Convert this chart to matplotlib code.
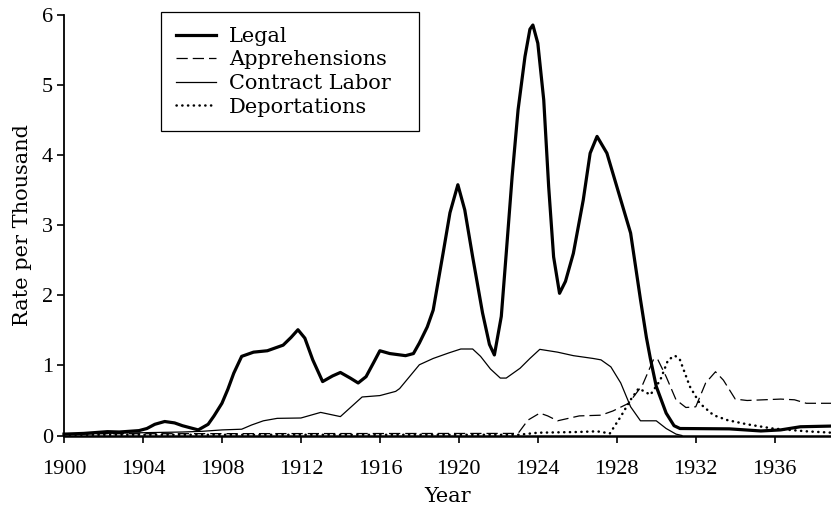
import matplotlib
matplotlib.use("Agg")
import matplotlib.pyplot as plt

plt.rcParams["font.family"] = ["Liberation Serif", "DejaVu Serif"]
plt.rcParams["font.size"] = 16

# values (rate per thousand)
legal_years = [1900, 1901, 1902.2, 1902.8, 1903.8, 1904.2, 1904.6, 1905.1, 1905.6, 1906.0,
               1906.8, 1907.3, 1907.6, 1908.0, 1908.3, 1908.6, 1909.0, 1909.6, 1910.3, 1911.1,
               1911.5, 1911.85, 1912.2, 1912.6, 1913.1, 1913.6, 1914.0, 1914.5, 1914.9, 1915.3,
               1915.7, 1916.0, 1916.5, 1917.3, 1917.7, 1918.0, 1918.4, 1918.7, 1919.2, 1919.55,
               1919.95, 1920.3, 1920.7, 1921.2, 1921.55, 1921.8, 1922.15, 1922.4, 1922.7, 1923.0,
               1923.35, 1923.6, 1923.75, 1924.0, 1924.3, 1924.55, 1924.8, 1925.1, 1925.4, 1925.8,
               1926.3, 1926.65, 1927.0, 1927.5, 1928.1, 1928.7, 1929.2, 1929.5, 1929.7, 1930.0,
               1930.5, 1930.9, 1931.2, 1933.7, 1935.3, 1936.3, 1937.3, 1938.9]
legal_rate = [0.02, 0.03, 0.055, 0.05, 0.07, 0.10, 0.16, 0.20, 0.18, 0.14,
              0.08, 0.16, 0.28, 0.46, 0.66, 0.89, 1.13, 1.19, 1.21, 1.29,
              1.40, 1.51, 1.39, 1.08, 0.77, 0.85, 0.90, 0.82, 0.75, 0.84,
              1.05, 1.21, 1.17, 1.14, 1.17, 1.32, 1.55, 1.79, 2.60, 3.18,
              3.58, 3.22, 2.55, 1.75, 1.30, 1.15, 1.70, 2.60, 3.70, 4.65,
              5.41, 5.80, 5.86, 5.60, 4.79, 3.55, 2.55, 2.03, 2.20, 2.60,
              3.36, 4.03, 4.27, 4.03, 3.46, 2.89, 1.94, 1.40, 1.10, 0.70,
              0.32, 0.14, 0.10, 0.095, 0.065, 0.08, 0.125, 0.135]

contract_years = [1900, 1902, 1904, 1906, 1907, 1908, 1909, 1909.5, 1910.1, 1910.8,
                  1912.0, 1913.0, 1914.0, 1915.1, 1916.0, 1916.8, 1917.0, 1917.5, 1918.0, 1918.7,
                  1919.5, 1920.1, 1920.7, 1921.1, 1921.6, 1922.1, 1922.4, 1923.1, 1923.6, 1924.1,
                  1925.0, 1925.8, 1926.8, 1927.2, 1927.7, 1928.2, 1928.7, 1929.2, 1930.0, 1930.5,
                  1931.0, 1931.3]
contract_rate = [0.02, 0.03, 0.04, 0.05, 0.06, 0.08, 0.09, 0.15, 0.21, 0.245,
                 0.25, 0.33, 0.27, 0.55, 0.57, 0.63, 0.67, 0.84, 1.01, 1.10,
                 1.18, 1.235, 1.235, 1.13, 0.95, 0.82, 0.82, 0.96, 1.10, 1.23,
                 1.19, 1.14, 1.10, 1.08, 0.98, 0.75, 0.41, 0.21, 0.21, 0.10,
                 0.02, 0.0]

appr_years = [1900, 1923.0, 1923.5, 1924.1, 1924.5, 1925.0, 1926.1, 1927.2, 1927.8, 1928.6,
              1929.3, 1929.85, 1930.05, 1930.5, 1931.0, 1931.5, 1932.0, 1932.5, 1933.0, 1933.4,
              1934.0, 1934.6, 1936.3, 1937.0, 1937.6, 1938.9]
appr_rate = [0.025, 0.03, 0.22, 0.32, 0.28, 0.21, 0.28, 0.29, 0.35, 0.46,
             0.72, 1.08, 1.10, 0.84, 0.51, 0.40, 0.41, 0.75, 0.91, 0.79,
             0.52, 0.50, 0.52, 0.51, 0.46, 0.46]

deport_years = [1900, 1923.0, 1924.0, 1926.0, 1927.0, 1927.65, 1928.2, 1928.7, 1929.1, 1929.4,
                1929.7, 1930.2, 1930.6, 1930.95, 1931.2, 1931.7, 1932.2, 1932.9, 1933.6, 1934.6,
                1935.9, 1937.6, 1938.9]
deport_rate = [0.01, 0.01, 0.04, 0.05, 0.06, 0.03, 0.27, 0.51, 0.67, 0.63,
               0.58, 0.79, 1.08, 1.14, 1.08, 0.70, 0.46, 0.29, 0.22, 0.16,
               0.10, 0.06, 0.04]

xticks = [1900, 1904, 1908, 1912, 1916, 1920, 1924, 1928, 1932, 1936]

fig = plt.figure(figsize=(8.31, 5.07), dpi=100)
ax = fig.add_axes([0.077, 0.141, 0.923, 0.829])

ax.plot(deport_years, deport_rate, color="black", lw=1.8, linestyle=(0, (0.1, 2.2)),
        dash_capstyle="round", label="Deportations", clip_on=False)
ax.plot(appr_years, appr_rate, color="black", lw=0.9, linestyle=(0, (9, 4)),
        label="Apprehensions", clip_on=False)
ax.plot(contract_years, contract_rate, color="black", lw=0.9,
        label="Contract Labor", clip_on=False)
ax.plot(legal_years, legal_rate, color="black", lw=2.3, solid_joinstyle="round",
        label="Legal", clip_on=False)

ax.set_xlim(1900, 1938.85)
ax.set_ylim(0, 6)
ax.set_xticks(xticks)
ax.set_yticks(range(7))
ax.spines["top"].set_visible(False)
ax.spines["right"].set_visible(False)
ax.spines["left"].set_linewidth(1.3)
ax.spines["bottom"].set_linewidth(1.8)
ax.tick_params(axis="both", direction="out", length=5, width=1.2, color="black")
ax.tick_params(axis="x", pad=12.5)
ax.tick_params(axis="y", pad=3)
label_font = {"family": ["DejaVu Serif"], "size": 15}
ax.set_xlabel("Year", labelpad=6, fontdict=label_font)
ax.set_ylabel("Rate per Thousand", labelpad=7, fontdict=label_font)

handles, labels = ax.get_legend_handles_labels()
order = [3, 1, 2, 0]
leg = ax.legend([handles[i] for i in order], [labels[i] for i in order],
                loc="upper left", bbox_to_anchor=(0.1265, 0.5, 0.3364, 0.5071),
                mode="expand", fancybox=False, framealpha=1, edgecolor="black",
                prop={"family": ["DejaVu Serif"], "size": 15},
                handlelength=1.95, handletextpad=0.6, labelspacing=0.22,
                borderpad=0.7, borderaxespad=0)
leg.get_frame().set_linewidth(0.9)

fig.savefig("out.png", dpi=100)
